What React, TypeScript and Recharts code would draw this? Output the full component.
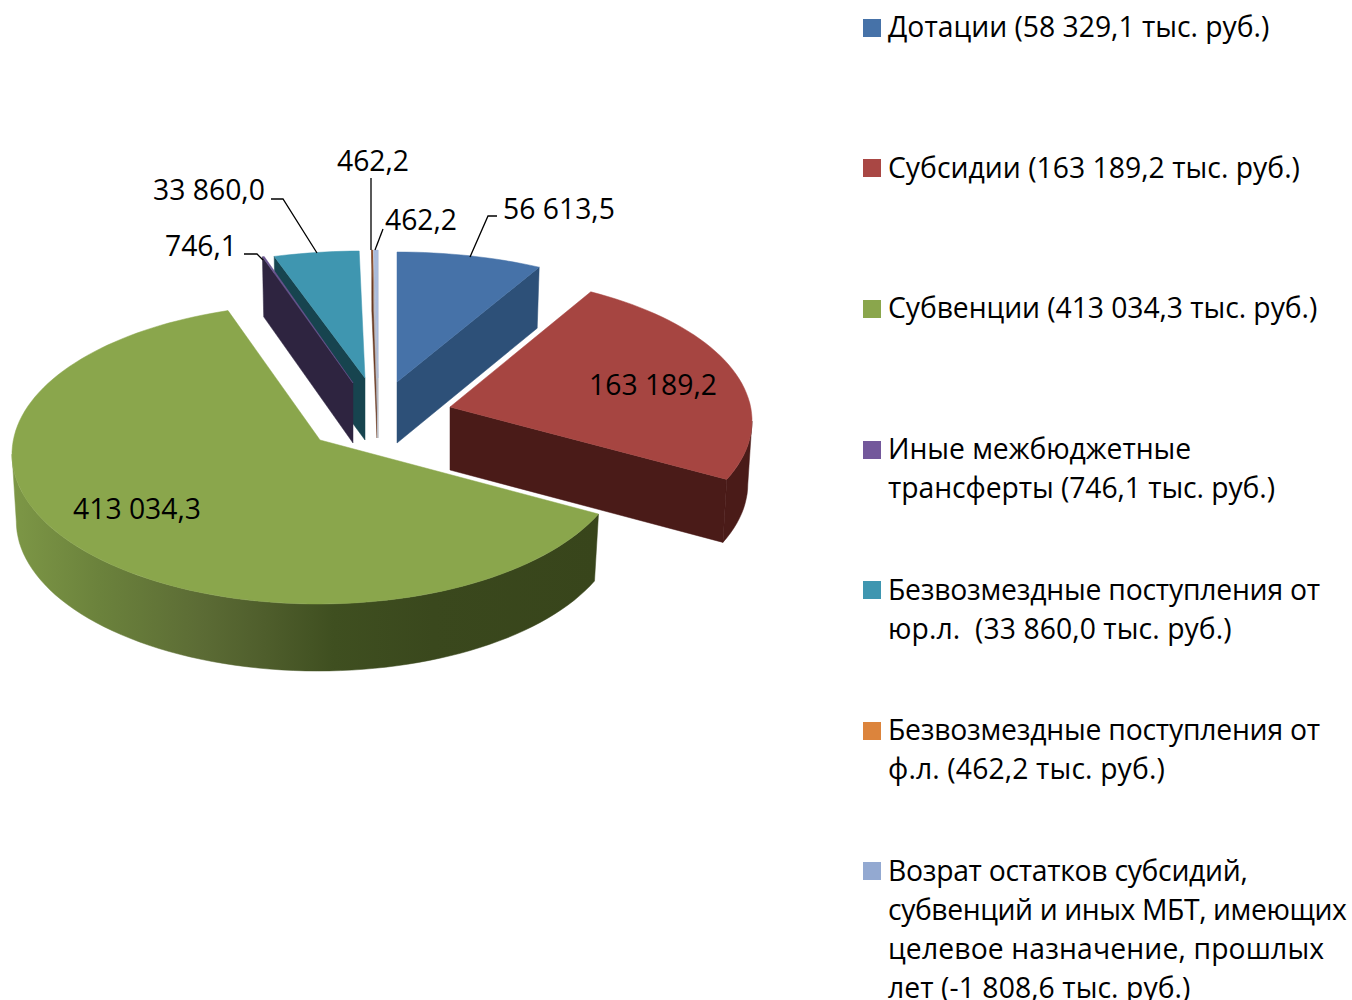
import { Legend, Pie, PieChart } from "recharts"

const FONT = "'Open Sans', 'Noto Sans', sans-serif"
const FONT_SIZE = 28.3

const names = [
  "Дотации",
  "Субсидии",
  "Субвенции",
  "Иные межбюджетные трансферты",
  "Безвозмездные поступления от юр.л.",
  "Безвозмездные поступления от ф.л.",
  "Возрат остатков",
]
const values = [56613.5, 163189.2, 413034.3, 746.1, 33860.0, 462.2, 1808.6]
const valueLabels = ["56 613,5", "163 189,2", "413 034,3", "746,1", "33 860,0", "462,2", "462,2"]
const legendLines = [
  ["Дотации (58 329,1 тыс. руб.)"],
  ["Субсидии (163 189,2 тыс. руб.)"],
  ["Субвенции (413 034,3 тыс. руб.)"],
  ["Иные межбюджетные", "трансферты (746,1 тыс. руб.)"],
  ["Безвозмездные поступления от", "юр.л.  (33 860,0 тыс. руб.)"],
  ["Безвозмездные поступления от", "ф.л. (462,2 тыс. руб.)"],
  ["Возрат остатков субсидий,", "субвенций и иных МБТ, имеющих", "целевое назначение, прошлых", "лет (-1 808,6 тыс. руб.)"],
]
// letter spacing per legend line, so the widths land on the reference's
const legendTracking = [[0], [0.03], [-0.06], [-0.05, -0.07], [-0.21, 0.08], [-0.21, 0.14], [-0.28, -0.4, 0.14, 0.08]]

const topFills = ["#4672a8", "#a64541", "#8aa64c", "#6b5590", "#3f96b0", "#8a4a28", "#a9bbdc"]
const wallFills = ["#2d5078", "#4a1b18", "url(#greenWall)", "#2e2440", "#17444f", "#6b3a20", "#b8bcc6"]
const legendFills = ["#4672a8", "#a94744", "#8aa64c", "#73589b", "#3f96b0", "#dc843c", "#93a9d1"]

// apex of each exploded slice, and the ellipse its rim runs on
const geometry = [
  { ax: 397, ay: 382, cx: 397, cy: 384, rx: 305, ry: 132, depth: 61 },
  { ax: 450, ay: 407, cx: 450, cy: 421, rx: 302, ry: 146, depth: 63 },
  { ax: 320, ay: 440, cx: 318, cy: 454, rx: 306, ry: 150, depth: 67 },
  { ax: 353, ay: 383, cx: 353, cy: 381, rx: 308, ry: 130, depth: 60 },
  { ax: 365, ay: 378, cx: 365, cy: 378, rx: 315, ry: 127, depth: 62 },
  { ax: 377, ay: 378, cx: 377, cy: 378, rx: 290, ry: 128, depth: 60 },
  { ax: 378, ay: 378, cx: 378, cy: 378, rx: 290, ry: 128, depth: 60 },
]

// text centre and leader line for each value label
const labelSpots = [
  { x: 559, y: 208, line: "M497 216 H488 L470 257" },
  { x: 653, y: 384, line: "" },
  { x: 137, y: 508, line: "" },
  { x: 201, y: 245, line: "M244 254 H257 L263 260" },
  { x: 209, y: 189, line: "M271 199 H283 L317 253" },
  { x: 373, y: 160, line: "M371 178 V250" },
  { x: 421, y: 219, line: "M383 229 L375 250" },
]

const PURPLE = 3
// slice angles at which the warped rim reaches its right and left extremes
const FRONT_FROM = 95.2
const FRONT_TO = 262

const rad = (deg: number) => (deg * Math.PI) / 180

function rimPoint(g: (typeof geometry)[number], theta: number) {
  // the picture's perspective squeezes angles a little, more on the left
  const s = Math.sin(rad(theta))
  const warped = rad(theta - (s > 0 ? 5.2 : 8) * s)
  return { x: g.cx + g.rx * Math.sin(warped), y: g.cy - g.ry * Math.cos(warped) }
}

function rimPoints(g: (typeof geometry)[number], from: number, to: number) {
  const pts = []
  const steps = Math.max(1, Math.ceil((to - from) / 2))
  for (let i = 0; i <= steps; i++) pts.push(rimPoint(g, from + ((to - from) * i) / steps))
  return pts
}

function lowered(g: (typeof geometry)[number], p: { x: number; y: number }) {
  return { x: g.cx + (p.x - g.cx) * 0.986, y: p.y + g.depth }
}

function toPath(pts: { x: number; y: number }[]) {
  return "M" + pts.map((p) => `${p.x.toFixed(1)} ${p.y.toFixed(1)}`).join(" L") + " Z"
}

function Slice(props: any, onlyPurple: boolean) {
  const i = names.indexOf(props.name ?? props.payload?.name)
  if (i < 0 || (i === PURPLE) !== onlyPurple) return <g />
  const g = geometry[i]
  const start = 90 - props.startAngle
  const end = 90 - props.endAngle
  const apex = { x: g.ax, y: g.ay }
  const walls: string[] = []

  const cutWall = (theta: number) => {
    const rim = rimPoint(g, theta)
    walls.push(toPath([apex, rim, lowered(g, rim), { x: apex.x, y: apex.y + g.depth }]))
  }
  if (Math.sin(rad(start)) < 0) cutWall(start)
  if (Math.sin(rad(end)) > 0) cutWall(end)

  const frontFrom = Math.max(start, FRONT_FROM)
  const frontTo = Math.min(end, FRONT_TO)
  if (frontTo > frontFrom) {
    const rim = rimPoints(g, frontFrom, frontTo)
    walls.push(toPath([...rim, ...rim.map((p) => lowered(g, p)).reverse()]))
  }

  return (
    <g>
      {walls.map((d, k) => (
        <path key={k} d={d} fill={wallFills[i]} stroke={wallFills[i]} strokeWidth={0.5} />
      ))}
      <path d={toPath([apex, ...rimPoints(g, start, end)])} fill={topFills[i]} stroke={topFills[i]} strokeWidth={0.5} />
    </g>
  )
}

function ValueLabel(props: any) {
  const i = props.index
  const spot = labelSpots[i]
  return (
    <g>
      {spot.line && <path d={spot.line} fill="none" stroke="#000" strokeWidth={1.3} />}
      <text x={spot.x} y={spot.y} textAnchor="middle" dominantBaseline="central" fontFamily={FONT} fontSize={FONT_SIZE} fill="#000">
        {valueLabels[i]}
      </text>
    </g>
  )
}

function LegendBlock() {
  return (
    <div style={{ position: "relative", width: 1352, height: 1000, fontFamily: FONT, fontSize: FONT_SIZE, color: "#000" }}>
      {legendLines.map((lines, i) => {
        const mid = 27.7 + i * 140.6
        return (
          <div key={i}>
            <div style={{ position: "absolute", left: 863, top: mid - 9, width: 18, height: 18, background: legendFills[i] }} />
            {lines.map((line, k) => (
              <div
                key={k}
                style={{
                  position: "absolute",
                  left: 888,
                  top: mid - 15.5 + k * 39,
                  height: 28,
                  lineHeight: "28px",
                  whiteSpace: "pre",
                  letterSpacing: legendTracking[i][k],
                }}
              >
                {line}
              </div>
            ))}
          </div>
        )
      })}
    </div>
  )
}

const tableData = names.map((name, i) => ({ name, value: values[i], fill: topFills[i] }))

export default function App() {
  return (
    <div style={{ position: "absolute", left: 0, top: 0, width: 1352, height: 1000, overflow: "hidden", background: "#fff" }}>
      <PieChart width={1352} height={1000} margin={{ top: 0, right: 0, bottom: 0, left: 0 }}>
        <defs>
          <linearGradient id="greenWall" gradientUnits="userSpaceOnUse" x1={12} y1={0} x2={597} y2={0}>
            <stop offset="0" stopColor="#7d9746" />
            <stop offset="0.15" stopColor="#6b823c" />
            <stop offset="0.32" stopColor="#5c6c35" />
            <stop offset="0.43" stopColor="#4f5e2c" />
            <stop offset="0.55" stopColor="#3f4f20" />
            <stop offset="0.72" stopColor="#3a481d" />
            <stop offset="1" stopColor="#38451b" />
          </linearGradient>
        </defs>
        <Pie
          data={tableData}
          dataKey="value"
          nameKey="name"
          cx={397}
          cy={382}
          outerRadius={300}
          startAngle={90}
          endAngle={-270}
          isAnimationActive={false}
          labelLine={false}
          label={ValueLabel}
          shape={(props: any) => Slice(props, false)}
        />
        {/* second pass: the purple wall sits in front of the teal one */}
        <Pie
          data={tableData}
          dataKey="value"
          nameKey="name"
          cx={397}
          cy={382}
          outerRadius={300}
          startAngle={90}
          endAngle={-270}
          isAnimationActive={false}
          labelLine={false}
          legendType="none"
          shape={(props: any) => Slice(props, true)}
        />
        <Legend content={LegendBlock} wrapperStyle={{ left: 0, top: 0, width: 1352, height: 1000 }} />
      </PieChart>
    </div>
  )
}
